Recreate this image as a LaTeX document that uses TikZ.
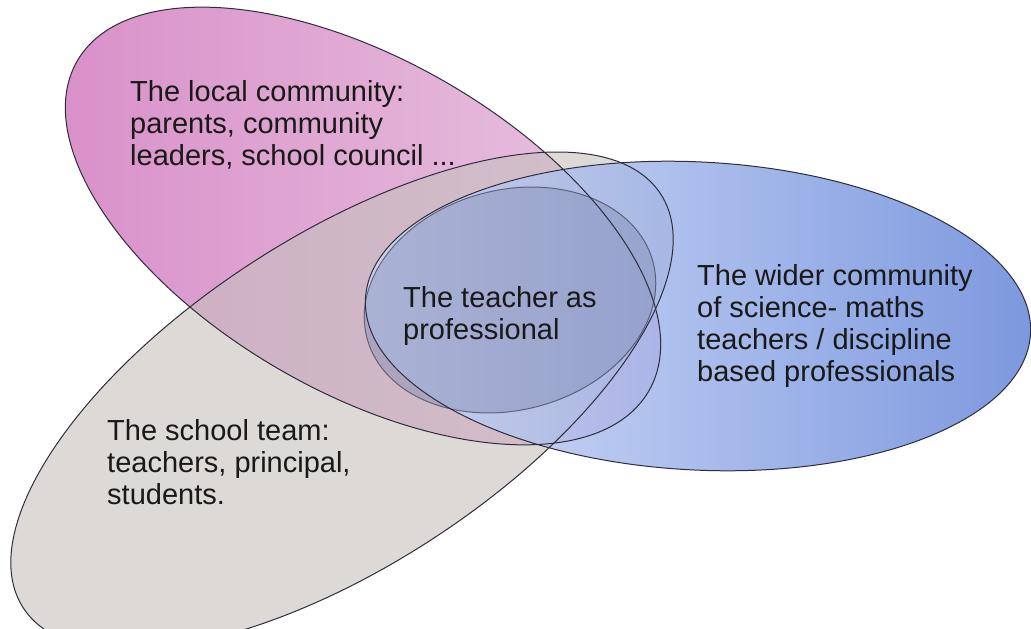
\documentclass[tikz,border=0pt]{standalone}
\usepackage{fontspec}
\setmainfont{Liberation Sans}

\definecolor{localL}{RGB}{216,142,200}
\definecolor{localR}{RGB}{234,200,226}
\definecolor{schoolC}{RGB}{196,192,188}
\definecolor{widerL}{RGB}{205,218,247}
\definecolor{widerR}{RGB}{92,126,214}
\definecolor{teachC}{RGB}{130,140,182}
\definecolor{rim}{RGB}{45,45,60}

\tikzset{
  ringtext/.style={align=left, anchor=west, inner sep=0pt,
    font=\fontsize{29}{32}\selectfont, text=black!90},
  rim/.style={draw=rim, line width=1pt}
}

\begin{document}
\begin{tikzpicture}[x=1pt,y=-1pt]
  \useasboundingbox (0,0) rectangle (1031,629);
  % fills first
  \shade[left color=localL, right color=localR, rotate around={-30:(363,226)}]
    (363,226) ellipse [x radius=330, y radius=166];
  \fill[schoolC, fill opacity=0.6, rotate around={33:(342,401)}]
    (342,401) ellipse [x radius=380, y radius=165];
  \shade[left color=widerL, right color=widerR, fill opacity=0.8, rotate around={-3:(698,316)}]
    (698,316) ellipse [x radius=333, y radius=154];
  \fill[teachC, fill opacity=0.45, rotate around={15:(510,300)}]
    (510,300) ellipse [x radius=148, y radius=110];
  % then the outlines on top
  \draw[rim, rotate around={-30:(363,226)}] (363,226) ellipse [x radius=330, y radius=166];
  \draw[rim, rotate around={33:(342,401)}] (342,401) ellipse [x radius=380, y radius=165];
  \draw[rim, rotate around={-3:(698,316)}] (698,316) ellipse [x radius=333, y radius=154];
  \draw[rim, draw opacity=0.6, rotate around={15:(510,300)}] (510,300) ellipse [x radius=148, y radius=110];
  % texts
  \node[ringtext] (local) at (130,125) {The local community:\\parents, community\\leaders, school council ...};
  \node[ringtext] (teacher) at (403,316) {The teacher as\\professional};
  \node[ringtext] (wider) at (697,326) {The wider community\\of science- maths\\teachers / discipline\\based professionals};
  \node[ringtext] (school) at (107,462) {The school team:\\teachers, principal,\\students.};
\end{tikzpicture}
\end{document}
